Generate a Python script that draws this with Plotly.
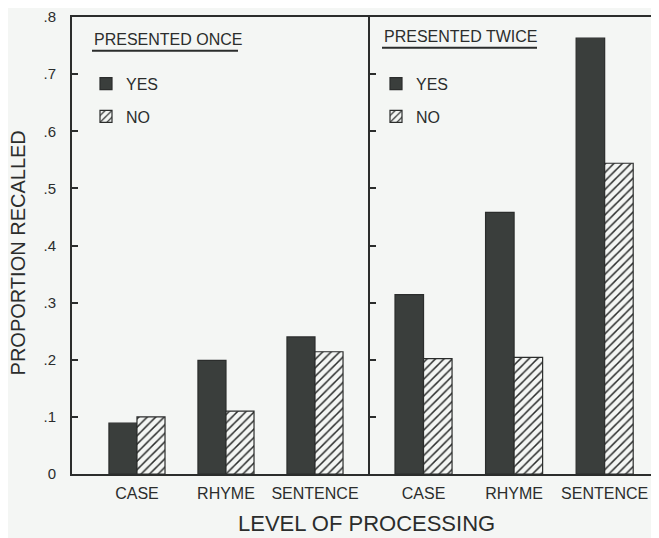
import plotly.graph_objects as go

categories = ["CASE", "RHYME", "SENTENCE"]
once_yes = [0.089, 0.199, 0.240]
once_no = [0.100, 0.110, 0.214]
twice_yes = [0.314, 0.458, 0.763]
twice_no = [0.202, 0.204, 0.544]
y_tickvals = [0, 0.1, 0.2, 0.3, 0.4, 0.5, 0.6, 0.7, 0.8]
y_ticktext = ["0", ".1", ".2", ".3", ".4", ".5", ".6", ".7", ".8"]

BG = "#f4f6f4"
DARK = "#3a3e3c"
INK = "#2b2d2c"
FONT = "Liberation Sans"

# page body has an 8px margin: the figure is sized/placed to fit the 659x538 window
OFF = 8
W, H = 659 - OFF, 538 - OFF
ML, MR, MT, MB = 72 - OFF, 0, 14 - OFF, H - (474 - OFF)
PW, PH = W - ML - MR, H - MT - MB
split = (370 - OFF - ML) / PW


def px(x):
    return (x - OFF - ML) / PW


def py(y):
    return (H - MB - (y - OFF)) / PH


xs = [0, 1, 2]
hatch = dict(shape="/", fgcolor=INK, bgcolor=BG, size=6, solidity=0.25, fgopacity=1)

fig = go.Figure()
fig.add_trace(go.Bar(x=xs, y=once_yes, name="YES", marker=dict(color=DARK, line=dict(color=INK, width=1.2)),
                     xaxis="x", yaxis="y", legend="legend", legendgroup="a"))
fig.add_trace(go.Bar(x=xs, y=once_no, name="NO", marker=dict(color=BG, pattern=hatch, line=dict(color=INK, width=1.2)),
                     xaxis="x", yaxis="y", legend="legend", legendgroup="b"))
fig.add_trace(go.Bar(x=xs, y=twice_yes, name="YES", marker=dict(color=DARK, line=dict(color=INK, width=1.2)),
                     xaxis="x2", yaxis="y2", legend="legend2", legendgroup="c"))
fig.add_trace(go.Bar(x=xs, y=twice_no, name="NO", marker=dict(color=BG, pattern=hatch, line=dict(color=INK, width=1.2)),
                     xaxis="x2", yaxis="y2", legend="legend2", legendgroup="d"))

axis_common = dict(showline=True, linecolor=INK, linewidth=2, showgrid=False, zeroline=False)
xcommon = dict(axis_common, tickvals=xs, ticktext=categories, ticks="", mirror=True,
               tickfont=dict(family=FONT, size=16, color=INK), ticklabelstandoff=4)

legend_common = dict(font=dict(family=FONT, size=16, color=INK), bgcolor="rgba(0,0,0,0)",
                     tracegroupgap=9, xanchor="left", yanchor="top", traceorder="grouped")

fig.update_layout(
    width=W, height=H,
    margin=dict(l=ML, r=MR, t=MT, b=MB, pad=0),
    paper_bgcolor=BG, plot_bgcolor=BG,
    barmode="group", bargap=0.37, bargroupgap=0,
    xaxis=dict(xcommon, domain=[0, split], range=[-0.73, 2.618], anchor="y"),
    xaxis2=dict(xcommon, domain=[split, 1], range=[-0.591, 2.60], anchor="y2"),
    yaxis=dict(axis_common, range=[0, 0.8], tickvals=y_tickvals, ticktext=y_ticktext, ticks="inside",
               ticklen=6, tickwidth=1.5, tickcolor=INK, anchor="x", ticklabeloverflow="allow",
               tickfont=dict(family=FONT, size=15, color=INK), ticklabelstandoff=11),
    yaxis2=dict(axis_common, range=[0, 0.8], tickvals=y_tickvals, showticklabels=False, ticks="inside",
                ticklen=6, tickwidth=1.5, tickcolor=INK, anchor="x2"),
    legend=dict(legend_common, x=px(86), y=py(64)),
    legend2=dict(legend_common, x=px(376), y=py(64)),
    annotations=[
        dict(text="PRESENTED ONCE", x=px(92), y=py(37), xref="paper", yref="paper", xanchor="left",
             yanchor="middle", showarrow=False, font=dict(family=FONT, size=16, color=INK)),
        dict(text="PRESENTED TWICE", x=px(382), y=py(34), xref="paper", yref="paper", xanchor="left",
             yanchor="middle", showarrow=False, font=dict(family=FONT, size=16, color=INK)),
        dict(text="PROPORTION RECALLED", x=px(18), y=py(252), xref="paper", yref="paper", textangle=-90,
             xanchor="center", yanchor="middle", showarrow=False, font=dict(family=FONT, size=20, color=INK)),
        dict(text="LEVEL OF PROCESSING", x=px(367), y=py(524), xref="paper", yref="paper",
             xanchor="center", yanchor="middle", showarrow=False, font=dict(family=FONT, size=22, color=INK)),
    ],
    shapes=[
        dict(type="line", xref="paper", yref="paper", x0=px(92), x1=px(238), y0=py(48), y1=py(48),
             line=dict(color=INK, width=2)),
        dict(type="line", xref="paper", yref="paper", x0=px(382), x1=px(537), y0=py(45), y1=py(45),
             line=dict(color=INK, width=2)),
    ],
)

fig.write_html("out.html")
